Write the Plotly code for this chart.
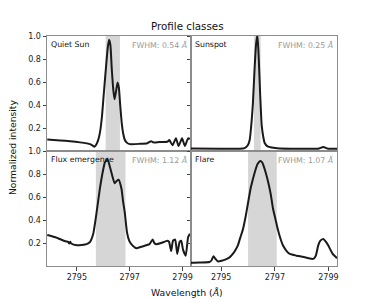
import plotly.graph_objects as go

# ---------------- data ----------------
qs_wl = [2793.88, 2794.37, 2794.75, 2795.12, 2795.50, 2795.61, 2795.66, 2795.72, 2795.80, 2795.87,
         2795.95, 2796.02, 2796.10, 2796.17, 2796.22, 2796.27, 2796.32, 2796.38, 2796.43, 2796.49,
         2796.54, 2796.59, 2796.64, 2796.70, 2796.75, 2796.81, 2796.88, 2797.00, 2797.37, 2797.67,
         2797.81, 2797.90, 2798.12, 2798.42, 2798.50, 2798.62, 2798.75, 2798.85, 2798.98, 2799.09,
         2799.21, 2799.28]
qs_int = [0.100, 0.092, 0.085, 0.075, 0.060, 0.045, 0.037, 0.050, 0.090, 0.155,
          0.300, 0.500, 0.720, 0.900, 0.968, 0.920, 0.720, 0.530, 0.450, 0.530,
          0.595, 0.550, 0.400, 0.240, 0.156, 0.100, 0.075, 0.060, 0.062, 0.068,
          0.085, 0.075, 0.078, 0.080, 0.095, 0.050, 0.110, 0.043, 0.110, 0.043,
          0.110, 0.105]

ss_wl = [2793.85, 2794.94, 2795.69, 2795.87, 2795.99, 2796.06, 2796.13, 2796.18, 2796.24, 2796.30,
         2796.35, 2796.40, 2796.45, 2796.51, 2796.57, 2796.62, 2796.73, 2796.88, 2797.18, 2797.93,
         2798.61, 2798.81, 2798.98, 2799.32]
ss_int = [0.022, 0.020, 0.020, 0.025, 0.050, 0.095, 0.250, 0.410, 0.700, 0.930,
          1.010, 0.800, 0.500, 0.220, 0.120, 0.070, 0.040, 0.030, 0.022, 0.020,
          0.020, 0.035, 0.020, 0.020]

fe_wl = [2793.88, 2794.19, 2794.56, 2794.67, 2794.71, 2794.75, 2794.79, 2795.00, 2795.37, 2795.50,
         2795.62, 2795.75, 2795.87, 2795.99, 2796.06, 2796.16, 2796.23, 2796.31, 2796.43, 2796.51,
         2796.58, 2796.69, 2796.75, 2796.81, 2796.90, 2796.98, 2797.06, 2797.25, 2797.41, 2797.62,
         2797.75, 2797.87, 2797.93, 2798.00, 2798.19, 2798.43, 2798.49, 2798.57, 2798.64, 2798.72,
         2798.80, 2798.89, 2798.95, 2799.02, 2799.12, 2799.21, 2799.28]
fe_int = [0.270, 0.250, 0.215, 0.210, 0.195, 0.210, 0.195, 0.180, 0.190, 0.210,
          0.280, 0.470, 0.670, 0.830, 0.900, 0.930, 0.880, 0.810, 0.720, 0.740,
          0.750, 0.670, 0.560, 0.470, 0.290, 0.220, 0.190, 0.155, 0.165, 0.180,
          0.190, 0.230, 0.200, 0.190, 0.200, 0.220, 0.210, 0.130, 0.220, 0.230,
          0.105, 0.210, 0.220, 0.140, 0.090, 0.250, 0.280]

fl_wl = [2793.85, 2794.19, 2794.56, 2794.64, 2794.71, 2794.79, 2794.87, 2795.01, 2795.19, 2795.31,
         2795.43, 2795.53, 2795.62, 2795.70, 2795.81, 2795.91, 2796.00, 2796.10, 2796.18, 2796.27,
         2796.35, 2796.46, 2796.53, 2796.58, 2796.66, 2796.75, 2796.85, 2796.93, 2797.03, 2797.12,
         2797.22, 2797.30, 2797.44, 2797.56, 2797.81, 2797.93, 2798.12, 2798.37, 2798.46, 2798.53,
         2798.62, 2798.70, 2798.81, 2798.91, 2798.99, 2799.16, 2799.32]
fl_int = [0.028, 0.030, 0.035, 0.050, 0.085, 0.060, 0.040, 0.045, 0.060, 0.075,
          0.105, 0.140, 0.180, 0.240, 0.320, 0.430, 0.550, 0.680, 0.755, 0.830,
          0.885, 0.914, 0.900, 0.870, 0.810, 0.730, 0.620, 0.500, 0.400, 0.310,
          0.230, 0.180, 0.130, 0.105, 0.090, 0.085, 0.076, 0.062, 0.065, 0.090,
          0.180, 0.220, 0.235, 0.210, 0.180, 0.105, 0.068]

class_names = ["Quiet Sun", "Sunspot", "Flux emergence", "Flare"]
fwhm_values = [0.54, 0.25, 1.12, 1.07]
span_lo = [2796.09, 2796.22, 2795.72, 2796.00]
span_hi = [2796.63, 2796.47, 2796.84, 2797.07]

x_ticks = [2795, 2797, 2799]
y_ticks = [0.2, 0.4, 0.6, 0.8, 1.0]
x_range = [2793.87, 2799.32]
y_range = [0.0, 1.0]

# ---------------- figure ----------------
# The page body has an 8 px margin, so the figure is sized 8 px smaller
# and its margins are reduced by 8 px to keep the plot area in place.
font_family = "DejaVu Sans"
spine = "#8c8c8c"
series = [(qs_wl, qs_int), (ss_wl, ss_int), (fe_wl, fe_int), (fl_wl, fl_int)]
axes = [("x", "y"), ("x2", "y2"), ("x3", "y3"), ("x4", "y4")]

fig = go.Figure()
for (wl, it), (xa, ya) in zip(series, axes):
    fig.add_trace(go.Scatter(x=wl, y=it, xaxis=xa, yaxis=ya, mode="lines",
                             line=dict(color="#1a1a1a", width=2, shape="spline", smoothing=0.5),
                             showlegend=False, hoverinfo="skip"))

split = 144 / 290
domains_x = [[0, split], [split, 1], [0, split], [split, 1]]
domains_y = [[0.5, 1], [0.5, 1], [0, 0.5], [0, 0.5]]

layout = dict(width=366, height=291, margin=dict(l=39, r=37, t=28, b=33),
              paper_bgcolor="white", plot_bgcolor="white",
              font=dict(family=font_family, size=8, color="#222222"),
              showlegend=False)

for i in range(4):
    sx = "" if i == 0 else str(i + 1)
    bottom = i >= 2
    left = i % 2 == 0
    layout["xaxis" + sx] = dict(domain=domains_x[i], range=x_range, anchor="y" + sx,
                                tickvals=x_ticks, showticklabels=bottom,
                                ticks="outside" if bottom else "", ticklen=3.5, tickcolor="#444",
                                showline=True, mirror=True, linecolor=spine, linewidth=1,
                                showgrid=False, zeroline=False, automargin=False,
                                tickfont=dict(size=8, color="#222"))
    layout["yaxis" + sx] = dict(domain=domains_y[i], range=y_range, anchor="x" + sx,
                                tickvals=y_ticks, tickformat=".1f", showticklabels=left,
                                ticks="outside", ticklen=3.5, tickcolor="#444",
                                showline=True, mirror=True, linecolor=spine, linewidth=1,
                                showgrid=False, zeroline=False, automargin=False,
                                tickfont=dict(size=8, color="#222"))
fig.update_layout(**layout)

shapes = []
annotations = []
for i in range(4):
    sx = "" if i == 0 else str(i + 1)
    shapes.append(dict(type="rect", xref="x" + sx, yref="y" + sx + " domain",
                       x0=span_lo[i], x1=span_hi[i], y0=0, y1=1,
                       fillcolor="#d6d6d6", line=dict(width=0), layer="below"))
    annotations.append(dict(text=class_names[i], xref="x" + sx + " domain", yref="y" + sx + " domain",
                            x=0, y=1, xanchor="left", yanchor="top", xshift=2, yshift=-2,
                            showarrow=False, font=dict(size=7.8, color="#111")))
    annotations.append(dict(text="FWHM: %.2f <i>Å</i>" % fwhm_values[i],
                            xref="x" + sx + " domain", yref="y" + sx + " domain",
                            x=1, y=1, xanchor="right", yanchor="top", xshift=-2, yshift=-2,
                            showarrow=False, font=dict(size=7.8, color="#999999")))

annotations.append(dict(text="Profile classes", xref="paper", yref="paper",
                        x=(187 - 47) / 290, y=(266 - 26) / 230, xanchor="center", yanchor="middle",
                        showarrow=False, font=dict(size=10.3, color="#111")))
annotations.append(dict(text="Wavelength (<i>Å</i>)", xref="paper", yref="paper",
                        x=(187 - 47) / 290, y=(266 - 292.5) / 230, xanchor="center", yanchor="middle",
                        showarrow=False, font=dict(size=9.3, color="#111")))
annotations.append(dict(text="Normalized intensity", xref="paper", yref="paper",
                        x=(12 - 47) / 290, y=(266 - 148) / 230, xanchor="center", yanchor="middle",
                        textangle=-90, showarrow=False, font=dict(size=9.2, color="#111")))

fig.update_layout(shapes=shapes, annotations=annotations)
fig.write_html("out.html")
